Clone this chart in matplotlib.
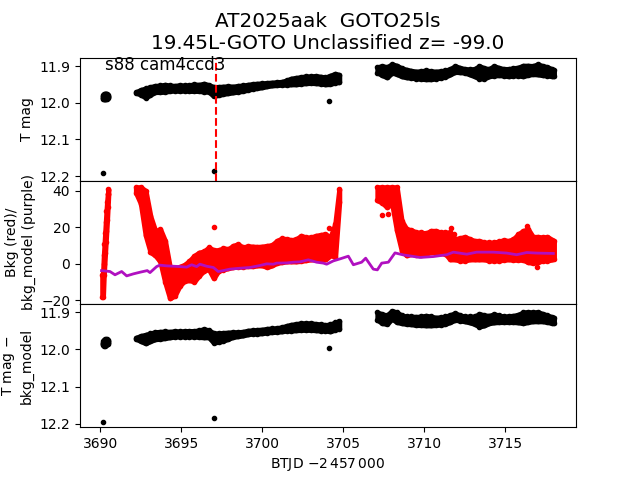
import matplotlib
matplotlib.use("Agg")
import matplotlib.pyplot as plt

title = "AT2025aak  GOTO25ls\n19.45L-GOTO Unclassified z= -99.0"
sector_label = "s88 cam4ccd3"
event_time = 3697.15

# Time grids of the two observing stretches (BTJD - 2457000)
t_a = [3692.2, 3692.5, 3692.8, 3693.1, 3693.4, 3693.7, 3694.0, 3694.3, 3694.6, 3694.9, 3695.2,
       3695.5, 3695.8, 3696.1, 3696.4, 3696.7, 3697.0, 3697.3, 3697.6, 3697.9, 3698.2, 3698.5,
       3698.8, 3699.1, 3699.4, 3699.7, 3700.0, 3700.3, 3700.6, 3700.9, 3701.2, 3701.5, 3701.8,
       3702.1, 3702.4, 3702.7, 3703.0, 3703.3, 3703.6, 3703.9, 3704.2, 3704.5, 3704.75]
t_b = [3707.1, 3707.4, 3707.7, 3708.0, 3708.3, 3708.6, 3708.9, 3709.2, 3709.5, 3709.8, 3710.1,
       3710.4, 3710.7, 3711.0, 3711.3, 3711.6, 3711.9, 3712.2, 3712.5, 3712.8, 3713.1, 3713.4,
       3713.7, 3714.0, 3714.3, 3714.6, 3714.9, 3715.2, 3715.5, 3715.8, 3716.1, 3716.4, 3716.7,
       3717.0, 3717.3, 3717.6, 3717.9, 3718.0]

# Panel 1: T mag envelopes
mag_a_top = [11.971, 11.965, 11.961, 11.957, 11.954, 11.953, 11.951, 11.953, 11.954, 11.952, 11.953,
             11.952, 11.950, 11.951, 11.948, 11.952, 11.957, 11.957, 11.956, 11.955, 11.956, 11.954,
             11.953, 11.951, 11.949, 11.948, 11.947, 11.946, 11.945, 11.944, 11.943, 11.939, 11.934,
             11.932, 11.930, 11.928, 11.928, 11.927, 11.929, 11.931, 11.926, 11.921, 11.924]
mag_a_bot = [11.973, 11.978, 11.986, 11.978, 11.971, 11.971, 11.970, 11.968, 11.967, 11.968, 11.967,
             11.968, 11.968, 11.968, 11.970, 11.970, 11.982, 11.979, 11.976, 11.974, 11.972, 11.970,
             11.968, 11.965, 11.962, 11.960, 11.958, 11.955, 11.953, 11.952, 11.951, 11.951, 11.950,
             11.950, 11.948, 11.947, 11.946, 11.947, 11.948, 11.950, 11.949, 11.945, 11.944]
mag_b_top = [11.903, 11.900, 11.903, 11.895, 11.899, 11.906, 11.910, 11.913, 11.915, 11.914, 11.912,
             11.914, 11.915, 11.914, 11.912, 11.908, 11.900, 11.905, 11.908, 11.909, 11.908, 11.900,
             11.906, 11.908, 11.900, 11.905, 11.908, 11.908, 11.906, 11.904, 11.899, 11.899, 11.900,
             11.895, 11.900, 11.903, 11.909, 11.912]
mag_b_bot = [11.918, 11.925, 11.931, 11.918, 11.922, 11.928, 11.931, 11.932, 11.934, 11.935, 11.936,
             11.936, 11.934, 11.932, 11.929, 11.923, 11.916, 11.917, 11.918, 11.923, 11.928, 11.934,
             11.934, 11.928, 11.926, 11.925, 11.926, 11.928, 11.926, 11.926, 11.928, 11.924, 11.922,
             11.923, 11.925, 11.926, 11.928, 11.928]
blob_t = [3690.15, 3690.2, 3690.25, 3690.3, 3690.35, 3690.4, 3690.45, 3690.5]
blob_mag_top = [11.983, 11.978, 11.976, 11.975, 11.975, 11.976, 11.978, 11.982]
blob_mag_bot = [11.987, 11.990, 11.991, 11.991, 11.990, 11.989, 11.987, 11.985]
outlier_t = [3690.19, 3697.04, 3704.12]
outlier_mag = [12.193, 12.185, 11.995]

# Panel 2: background flux envelopes
spike_t = [3690.12, 3690.17, 3690.22, 3690.26, 3690.30, 3690.34, 3690.38, 3690.42, 3690.46, 3690.50]
spike_lo = [-18, -18, -6, 0, 6, 12, 18, 24, 31, 38]
spike_hi = [-6, -5, 5, 11, 17, 23, 29, 34, 38, 41]
bkg_a_hi = [42, 42, 40, 26, 18, 19, 12.6, -2, -2.4, -1.6, -0.5, 1.6, 4.4, 6.2, 6.8, 9, 7.5, 7.5, 8.6, 8.1,
            9.9, 10.8, 9, 9.7, 9.5, 9.3, 9.5, 9.9, 10.3, 12.6, 13.9, 13.6, 13, 13.6, 15.4, 14.5, 14.5,
            15.4, 15.9, 16.3, 14.5, 22, 41]
bkg_a_lo = [39, 33, 15.6, 6.4, 4.6, 1.3, -10, -18.9, -17.4, -12, -9.3, -9, -9.7, -6.4, -3.7, -3, -7.9,
            -3.7, -3.1, -2.4, -1.8, -1.6, -1.5, -1.3, -1.3, -0.9, -0.9, -1.8, -0.9, 0.5, 0.9, 1.3, 1.3,
            1.3, 1.6, 2, 2.4, 2.4, 2.4, 2.4, 4.6, 4, 34]
bkg_b_hi = [42, 42, 42, 42, 42, 23.6, 19, 18.5, 17.2, 17.2, 16.7, 18.1, 18.1, 17.2, 17.2, 17.2, 13.6, 14.1,
            14.8, 13.6, 12.6, 12.6, 11.7, 11.7, 11.7, 12.3, 13, 12.6, 13.6, 16.3, 18.1, 19, 14.8, 14.8,
            14.5, 14.8, 13, 12.6]
bkg_b_lo = [34.8, 33.5, 31, 33.5, 18.3, 7.3, 4.6, 5.5, 4.9, 5, 5.5, 6.4, 6.4, 5.9, 5.5, 2.4, 2.4, 1.8, 1.8,
            2.4, 2.4, 2.4, 2.4, 1.8, 1.8, 1.8, 2.2, 2.4, 2.2, 2.2, 2.2, 0.9, 0.5, 0.9, 1.8, 1.8, 2.4, 2.7]
bkg_out_t = [3697.04, 3704.1, 3707.41, 3707.78, 3711.65, 3711.85, 3716.36, 3716.98]
bkg_out_v = [20.1, 19.6, 26.7, 27.3, 19.6, 16.3, 20.5, -1.8]

# Panel 2: background model
model_t = [3690.08, 3690.60, 3690.91, 3691.32, 3691.63, 3692.04, 3692.45, 3692.90, 3693.07, 3693.48,
           3693.68, 3694.09, 3694.92, 3695.33, 3695.64, 3695.95, 3696.15, 3696.56, 3696.98, 3697.28,
           3697.59, 3698.00, 3698.62, 3699.24, 3699.86, 3700.27, 3700.68, 3700.88, 3701.50, 3701.91,
           3702.33, 3702.84, 3703.35, 3703.77, 3703.97, 3704.38, 3704.79, 3705.31, 3705.62, 3706.13,
           3706.38, 3706.85, 3707.10, 3707.37, 3707.78, 3708.19, 3708.70, 3709.73, 3710.56, 3711.38,
           3711.79, 3712.62, 3713.23, 3714.26, 3715.08, 3715.70, 3716.32, 3716.93, 3717.96]
model_v = [-3.7, -4.2, -6.0, -4.2, -6.6, -5.5, -4.6, -3.7, -4.8, -1.5, -0.7, -1.1, -1.5, -1.8, -0.5, -1.5,
           -0.2, -1.3, -2.0, -4.2, -3.7, -2.9, -2.4, -2.0, -0.9, 0.0, -0.2, 0.4, 0.5, 0.9, 1.1, 2.2, 0.9,
           0.4, -0.2, 1.6, 2.7, 4.2, -0.5, 0.9, 3.1, -2.9, -3.3, 0.4, 0.9, 6.0, 4.9, 3.5, 4.0, 5.0, 6.4,
           5.3, 6.4, 6.4, 5.9, 5.0, 6.2, 5.9, 5.7]

# Panel 3: corrected magnitude envelopes
cor_a_top = [11.969, 11.964, 11.961, 11.957, 11.954, 11.953, 11.952, 11.953, 11.951, 11.952, 11.951,
             11.951, 11.951, 11.949, 11.946, 11.949, 11.957, 11.957, 11.956, 11.955, 11.954, 11.954,
             11.953, 11.950, 11.949, 11.948, 11.947, 11.945, 11.944, 11.943, 11.941, 11.937, 11.934,
             11.932, 11.930, 11.930, 11.930, 11.932, 11.933, 11.935, 11.933, 11.928, 11.924]
cor_a_bot = [11.972, 11.978, 11.984, 11.978, 11.973, 11.972, 11.970, 11.968, 11.966, 11.966, 11.966,
             11.966, 11.966, 11.967, 11.968, 11.968, 11.982, 11.980, 11.977, 11.972, 11.967, 11.965,
             11.963, 11.960, 11.958, 11.958, 11.957, 11.955, 11.954, 11.953, 11.952, 11.950, 11.950,
             11.949, 11.948, 11.948, 11.948, 11.949, 11.950, 11.950, 11.952, 11.947, 11.945]
cor_b_top = [11.901, 11.906, 11.909, 11.897, 11.901, 11.909, 11.912, 11.912, 11.913, 11.912, 11.910,
             11.912, 11.915, 11.914, 11.912, 11.908, 11.903, 11.909, 11.912, 11.912, 11.912, 11.905,
             11.909, 11.910, 11.906, 11.909, 11.912, 11.911, 11.910, 11.907, 11.901, 11.900, 11.901,
             11.900, 11.905, 11.909, 11.914, 11.915]
cor_b_bot = [11.921, 11.930, 11.932, 11.918, 11.927, 11.930, 11.932, 11.933, 11.935, 11.935, 11.936,
             11.936, 11.935, 11.934, 11.932, 11.927, 11.921, 11.923, 11.925, 11.928, 11.932, 11.939,
             11.936, 11.930, 11.928, 11.927, 11.927, 11.927, 11.927, 11.928, 11.930, 11.927, 11.925,
             11.925, 11.925, 11.927, 11.930, 11.930]
cor_blob_top = [11.982, 11.977, 11.974, 11.973, 11.973, 11.973, 11.976, 11.978]
cor_blob_bot = [11.986, 11.989, 11.991, 11.991, 11.989, 11.987, 11.985, 11.982]
cor_out_mag = [12.194, 12.185, 11.997]

x_limits = (3688.75, 3719.36)
mag_ticks = [11.9, 12.0, 12.1, 12.2]
mag_tick_labels = ["11.9", "12.0", "12.1", "12.2"]
bkg_ticks = [-20, 0, 20, 40]
x_ticks = [3690, 3695, 3700, 3705, 3710, 3715]


def band(ax, t, lo, hi, color):
    ax.fill_between(t, lo, hi, color=color, linewidth=3.6, joinstyle="round", zorder=2)
    ax.plot(t, lo, ".", color=color, zorder=2)
    ax.plot(t, hi, ".", color=color, zorder=2)


fig, (ax1, ax2, ax3) = plt.subplots(3, 1, sharex=True, figsize=(6.4, 4.8), dpi=100)
fig.subplots_adjust(hspace=0)

band(ax1, blob_t, blob_mag_top, blob_mag_bot, "k")
band(ax1, t_a, mag_a_top, mag_a_bot, "k")
band(ax1, t_b, mag_b_top, mag_b_bot, "k")
ax1.plot(outlier_t, outlier_mag, "k.")
ax1.axvline(event_time, color="r", linestyle="--", linewidth=1.5)
ax1.text(3690.3, 11.91, sector_label, fontsize=12)
ax1.set_ylim(12.213, 11.877)
ax1.set_yticks(mag_ticks)
ax1.set_yticklabels(mag_tick_labels)
ax1.set_ylabel("T mag")
ax1.set_title(title, fontsize=14.4)

band(ax2, spike_t, spike_lo, spike_hi, "r")
band(ax2, t_a, bkg_a_lo, bkg_a_hi, "r")
band(ax2, t_b, bkg_b_lo, bkg_b_hi, "r")
ax2.plot(bkg_out_t, bkg_out_v, "r.")
ax2.plot(model_t, model_v, color="#b010c0", linewidth=2, zorder=3)
ax2.set_ylim(-22, 45.5)
ax2.set_yticks(bkg_ticks)
ax2.set_ylabel("Bkg (red)/\nbkg_model (purple)")

band(ax3, blob_t, cor_blob_top, cor_blob_bot, "k")
band(ax3, t_a, cor_a_top, cor_a_bot, "k")
band(ax3, t_b, cor_b_top, cor_b_bot, "k")
ax3.plot(outlier_t, cor_out_mag, "k.")
ax3.set_ylim(12.209, 11.8785)
ax3.set_yticks(mag_ticks)
ax3.set_yticklabels(mag_tick_labels)
ax3.set_ylabel("T mag $-$\nbkg_model")
ax3.set_xlabel(r"BTJD $-2\,457\,000$")

ax3.set_xlim(*x_limits)
ax3.set_xticks(x_ticks)
ax1.tick_params(axis="x", bottom=False)
ax2.tick_params(axis="x", bottom=False)

fig.savefig("out.png", dpi=100)
